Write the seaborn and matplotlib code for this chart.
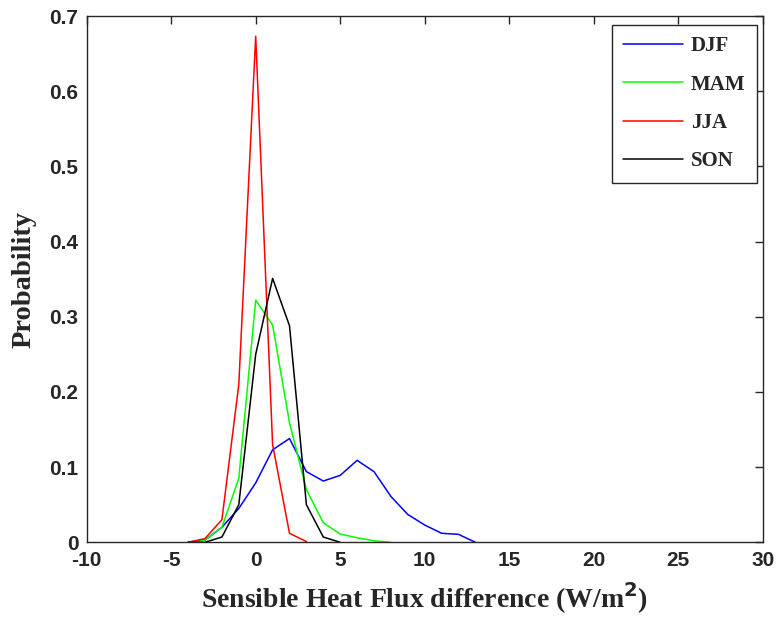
import numpy as np
import pandas as pd
import matplotlib
matplotlib.use("Agg")
import matplotlib.pyplot as plt
import seaborn as sns

# Data (1 W/m2 bins)
djf_x = [-4, -3, -2, -1, 0, 1, 2, 3, 4, 5, 6, 7, 8, 9, 10, 11, 12, 13]
djf_p = [0.0, 0.003, 0.02, 0.045, 0.079, 0.123, 0.138, 0.094, 0.0815, 0.089,
         0.109, 0.094, 0.061, 0.037, 0.023, 0.012, 0.0106, 0.0]

mam_x = [-4, -3, -2, -1, 0, 1, 2, 3, 4, 5, 6, 7, 8]
mam_p = [0.0, 0.003, 0.02, 0.085, 0.322, 0.289, 0.159, 0.07, 0.026, 0.011,
         0.006, 0.002, 0.0]

jja_x = [-4, -3, -2, -1, 0, 1, 2, 3]
jja_p = [0.0, 0.005, 0.03, 0.21, 0.673, 0.13, 0.012, 0.001]

son_x = [-4, -3, -2, -1, 0, 1, 2, 3, 4, 5]
son_p = [0.0, 0.0, 0.007, 0.05, 0.25, 0.351, 0.288, 0.05, 0.007, 0.0]

seasons = ["DJF", "MAM", "JJA", "SON"]
colors = ["#0000ff", "#00ff00", "#ff0000", "#000000"]

xticks = [-10, -5, 0, 5, 10, 15, 20, 25, 30]
yticks = [0, 0.1, 0.2, 0.3, 0.4, 0.5, 0.6, 0.7]

frames = []
for name, xs, ps in zip(seasons, [djf_x, mam_x, jja_x, son_x],
                        [djf_p, mam_p, jja_p, son_p]):
    frames.append(pd.DataFrame({"x": xs, "p": ps, "season": name}))
df = pd.concat(frames, ignore_index=True)

sns.set_style("white")
plt.rcParams["font.family"] = ["Liberation Sans", "DejaVu Sans"]

fig = plt.figure(figsize=(7.76, 6.18), dpi=100)
ax = fig.add_axes([86.7 / 776, 1 - 542.3 / 618, (762.7 - 86.7) / 776, (542.3 - 16) / 618])

sns.lineplot(data=df, x="x", y="p", hue="season", hue_order=seasons,
             palette=dict(zip(seasons, colors)), linewidth=1.1, ax=ax,
             sort=False, estimator=None, legend=True)

ax.set_xlim(-10, 30)
ax.set_ylim(0, 0.7)
ax.set_xticks(xticks)
ax.set_xticklabels([str(t) for t in xticks])
ax.set_yticks(yticks)
ax.set_yticklabels(["0"] + [f"{t:.1f}" for t in yticks[1:]])

for s in ax.spines.values():
    s.set_visible(True)
    s.set_color("#262626")
    s.set_linewidth(1.0)

ax.tick_params(direction="in", length=6, width=1.0, top=True, right=True,
               labelsize=15, color="#262626", pad=6)
for lab in ax.get_xticklabels() + ax.get_yticklabels():
    lab.set_fontweight("bold")

ax.set_xlabel("Sensible Heat Flux difference (W/m$^\\mathbf{2}$)",
              fontsize=20, fontweight="bold", family="Liberation Serif", labelpad=8)
ax.set_ylabel("Probability", fontsize=20.5, fontweight="bold",
              family="Liberation Serif", labelpad=9)

handles, labels = ax.get_legend_handles_labels()
leg = ax.legend(handles, labels, loc="upper right", bbox_to_anchor=(0.9916, 0.983),
                borderaxespad=0.0,
                frameon=True, fancybox=False, edgecolor="#262626", framealpha=1,
                handlelength=2.85, handletextpad=0.4, labelspacing=0.88,
                borderpad=0.55, prop={"family": "Liberation Serif", "weight": "bold", "size": 15})
leg.get_frame().set_linewidth(1.0)

fig.savefig("out.png", dpi=100)
